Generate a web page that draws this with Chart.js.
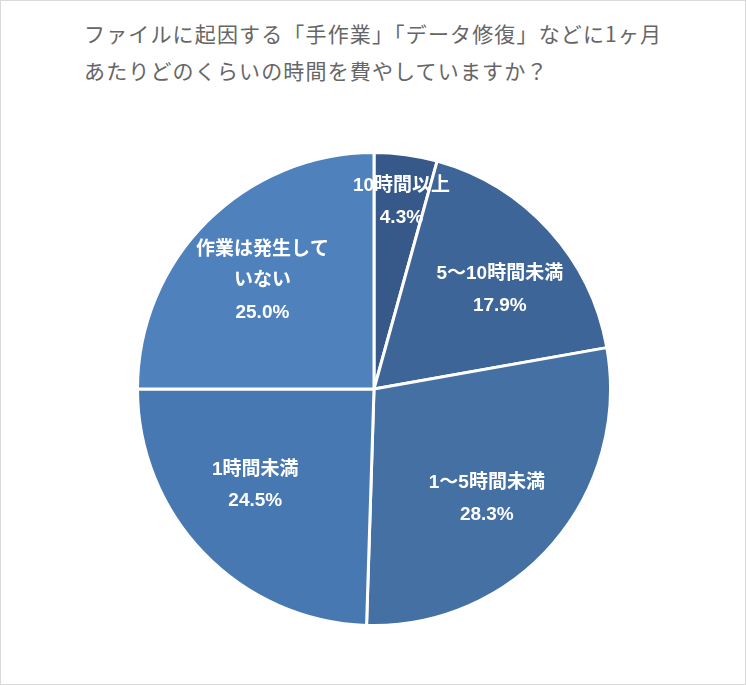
<!DOCTYPE html>
<html>
<head>
<meta charset="utf-8">
<script src="https://cdn.jsdelivr.net/npm/chart.js@4"></script>
<style>
  body { margin: 0; background: #fff; }
  #wrap { position: relative; width: 746px; height: 685px; box-sizing: border-box; border: 1px solid #d9d9d9; background: #fff; }
  #title { position: absolute; left: 83px; top: 14px; font-family: "Noto Sans CJK JP", sans-serif; font-size: 21px; line-height: 37px; color: #666666; letter-spacing: 1.15px; white-space: nowrap; }
  #chartBox { position: absolute; left: 0; top: 150px; width: 746px; height: 476px; }
</style>
</head>
<body>
<div id="wrap">
  <div id="title">ファイルに起因する「手作業」「データ修復」などに1ヶ月<br>あたりどのくらいの時間を費やしていますか？</div>
  <div id="chartBox"><canvas id="pie-chart"></canvas></div>
</div>
<script>
// カテゴリと値
const rotulos = ['10時間以上', '5〜10時間未満', '1〜5時間未満', '1時間未満', '作業は発生していない'];
const linhasRotulo = [['10時間以上'], ['5〜10時間未満'], ['1〜5時間未満'], ['1時間未満'], ['作業は発生して', 'いない']];
const valores = [4.3, 17.9, 28.3, 24.5, 25.0];
const cores = ['#36598a', '#3d6597', '#4470a4', '#4878b1', '#4f81bd'];
// ラベル位置（半径に対する比率と角度のずれ）
const fatorRaio = [0.80, 0.677, 0.665, 0.647, 0.657];
const desvioAngulo = [0.6, 4.1, 3.3, 5.0, -0.9];

// スライス内にラベルを描くプラグイン
const rotulosInternos = {
  id: 'rotulosInternos',
  afterDatasetsDraw(chart) {
    const ctx = chart.ctx;
    const meta = chart.getDatasetMeta(0);
    ctx.save();
    ctx.fillStyle = '#ffffff';
    ctx.font = 'bold 19px "Liberation Sans", "Noto Sans CJK JP", sans-serif';
    ctx.textAlign = 'center';
    ctx.textBaseline = 'middle';
    meta.data.forEach((arc, i) => {
      const { x, y, startAngle, endAngle, outerRadius } = arc.getProps(['x', 'y', 'startAngle', 'endAngle', 'outerRadius'], true);
      const meio = (startAngle + endAngle) / 2 + desvioAngulo[i] * Math.PI / 180;
      const r = outerRadius * fatorRaio[i];
      const cx = x + Math.cos(meio) * r;
      const cy = y + Math.sin(meio) * r;
      const linhas = linhasRotulo[i].concat([valores[i].toFixed(1) + '%']);
      const passo = 31.5;
      const topo = cy - (linhas.length - 1) * passo / 2;
      linhas.forEach((t, k) => ctx.fillText(t, cx, topo + k * passo));
    });
    ctx.restore();
  }
};

const ctx = document.getElementById('pie-chart').getContext('2d');
new Chart(ctx, {
  type: 'pie',
  data: {
    labels: rotulos,
    datasets: [{
      data: valores,
      backgroundColor: cores,
      borderColor: '#ffffff',
      borderWidth: 3
    }]
  },
  options: {
    responsive: true,
    maintainAspectRatio: false,
    animation: false,
    layout: { padding: 0 },
    plugins: {
      legend: { display: false },
      tooltip: { enabled: false }
    }
  },
  plugins: [rotulosInternos]
});
</script>
</body>
</html>
